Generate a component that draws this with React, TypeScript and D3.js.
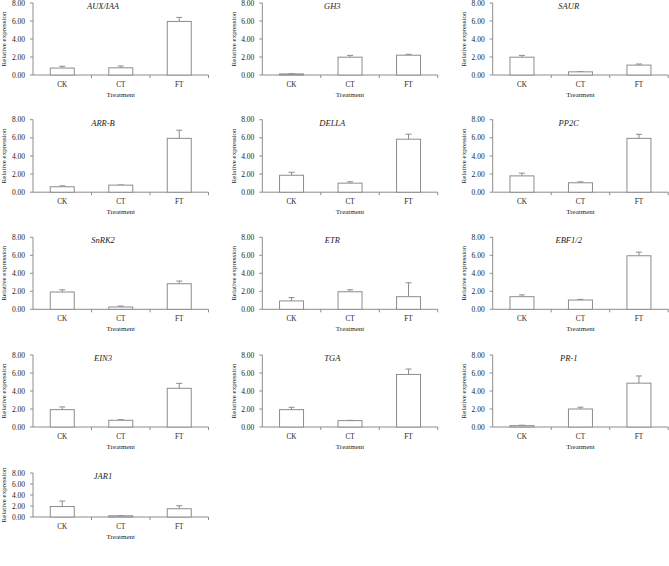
import React from "react";
import * as d3 from "d3";

const treatments = ["CK", "CT", "FT"];
const genes = ["AUX/IAA", "GH3", "SAUR", "ARR-B", "DELLA", "PP2C", "SnRK2", "ETR", "EBF1/2", "EIN3", "TGA", "PR-1", "JAR1"];
const means = [
  [0.77, 0.8, 5.95],
  [0.12, 1.98, 2.2],
  [1.98, 0.35, 1.1],
  [0.6, 0.78, 5.94],
  [1.87, 1.0, 5.85],
  [1.8, 1.04, 5.94],
  [1.92, 0.26, 2.84],
  [0.93, 1.95, 1.4],
  [1.4, 1.03, 5.95],
  [1.93, 0.75, 4.3],
  [1.93, 0.71, 5.84],
  [0.15, 2.0, 4.87],
  [1.9, 0.22, 1.5],
];
const errors = [
  [0.2, 0.2, 0.45],
  [0.03, 0.2, 0.1],
  [0.2, 0.03, 0.12],
  [0.1, 0.02, 0.9],
  [0.33, 0.15, 0.55],
  [0.3, 0.1, 0.45],
  [0.25, 0.1, 0.3],
  [0.37, 0.22, 1.55],
  [0.2, 0.07, 0.4],
  [0.3, 0.07, 0.55],
  [0.26, 0.03, 0.6],
  [0.05, 0.2, 0.8],
  [1.0, 0.05, 0.55],
];
const yTicks = [0, 2, 4, 6, 8];

const colX = [33, 262.3, 492.7];
const rowTop = [3, 119.7, 237.3, 355, 473];
const rowH = [72, 72.5, 72, 72, 44];
const plotW = 175.5;

const FONT = "'Liberation Serif', 'Times New Roman', serif";
const AX = "#8c8c8c";

function Panel({ gi }: { gi: number }) {
  const col = gi % 3;
  const row = Math.floor(gi / 3);
  const x0 = colX[col];
  const y0 = rowTop[row];
  const h = rowH[row];
  const x = d3.scaleBand().domain(treatments).range([0, plotW]).paddingInner(0).paddingOuter(0);
  const y = d3.scaleLinear().domain([0, 8]).range([h, 0]);
  const bw = x.bandwidth() * 0.41;
  return (
    <g transform={`translate(${x0},${y0})`}>
      <line x1={0} x2={0} y1={0} y2={h} stroke={AX} strokeWidth={1} />
      {yTicks.map((t) => (
        <g key={t}>
          <line x1={-3} x2={0} y1={y(t)} y2={y(t)} stroke={AX} strokeWidth={1} />
          <text x={-8} y={y(t)} dy="0.35em" textAnchor="end" fontSize={7.5} fontFamily={FONT} fill="#222">
            {t.toFixed(2)}
          </text>
        </g>
      ))}
      <line x1={0} x2={plotW} y1={h} y2={h} stroke={AX} strokeWidth={1} />
      {treatments.map((c) => (
        <line key={c} x1={x(c)! + x.bandwidth()} x2={x(c)! + x.bandwidth()} y1={h} y2={h + 3} stroke={AX} strokeWidth={1} />
      ))}
      {treatments.map((c, i) => {
        const cx = x(c)! + x.bandwidth() / 2;
        const v = means[gi][i];
        const e = errors[gi][i];
        return (
          <g key={c}>
            <line x1={cx} x2={cx} y1={y(v)} y2={y(v + e)} stroke={AX} strokeWidth={1} />
            <line x1={cx - 3} x2={cx + 3} y1={y(v + e)} y2={y(v + e)} stroke={AX} strokeWidth={1} />
            <rect x={cx - bw / 2} y={y(v)} width={bw} height={h - y(v)} fill="#fff" stroke={AX} strokeWidth={1} />
            <text x={cx} y={h + 9.5} dy="0.35em" textAnchor="middle" fontSize={7.2} fontFamily={FONT} fill="#222">
              {c}
            </text>
          </g>
        );
      })}
      <text x={plotW / 2} y={h + 19.5} dy="0.35em" textAnchor="middle" fontSize={7} fontFamily={FONT} fill="#222">
        Treatment
      </text>
      <text x={col === 2 ? 76 : 70} y={3} dy="0.35em" textAnchor="middle" fontSize={8.5} fontStyle="italic" fontFamily={FONT} fill="#222">
        {genes[gi]}
      </text>
      <text
        transform={`translate(${-29},${h / 2}) rotate(-90)`}
        dy="0.35em"
        textAnchor="middle"
        fontSize={7}
        fontFamily={FONT}
        fill="#222"
      >
        Relative expression
      </text>
    </g>
  );
}

export default function App() {
  return (
    <svg width={669} height={566} style={{ position: "absolute", left: 0, top: 0, background: "#fff" }}>
      <rect width={669} height={566} fill="#fff" />
      {genes.map((g, i) => (
        <Panel key={g} gi={i} />
      ))}
    </svg>
  );
}
